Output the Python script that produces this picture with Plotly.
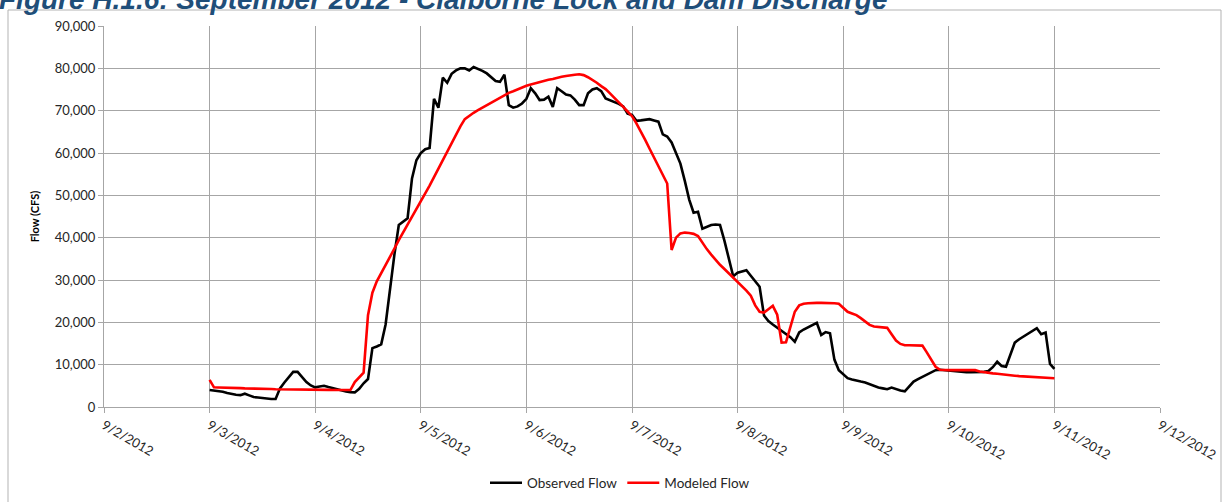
import pandas as pd
import plotly.graph_objects as go

# Hourly time stamps, 9/3/2012 00:00 through 9/11/2012 00:00
times = pd.date_range("2012-09-03 00:00", "2012-09-11 00:00", freq="h")

observed_flow = [
    4000, 3900, 3850, 3600, 3300, 3050, 2900, 2800, 3150, 2750, 2350, 2250, 2100, 1900, 1900, 1900,
    4400, 5800, 7000, 8300, 8300, 7100, 5900, 5100,
    4650, 4850, 5000, 4700, 4400, 4100, 3850, 3650, 3500, 3450, 4300, 5600, 6600, 13900, 14300, 14800,
    19500, 28000, 36000, 43000, 43800, 44600, 54000, 58300,
    60000, 60900, 61200, 72800, 70700, 77800, 76600, 78700, 79500, 80000, 80000, 79500, 80300, 79900,
    79400, 78800, 77800, 77000, 76800, 78500, 71300, 70700, 71000, 71700,
    72800, 75300, 74100, 72500, 72600, 73300, 70900, 75300, 74600, 73800, 73600, 72600, 71300, 71300,
    74100, 75000, 75300, 74600, 72900, 72500, 72000, 71600, 71000, 69300,
    69000, 67600, 67700, 67900, 68000, 67700, 67400, 64400, 63900, 62500, 60000, 57500, 53400, 49000,
    45900, 46100, 42100, 42500, 43000, 43100, 43000, 39300, 35300, 30900,
    31700, 32000, 32300, 31000, 29800, 28400, 21600, 20300, 19500, 18800, 18000, 17300, 16500, 15400,
    17600, 18300, 18800, 19300, 19900, 17000, 17700, 17400, 11200, 8700,
    7700, 6800, 6500, 6200, 6000, 5800, 5400, 4900, 4600, 4400, 4200, 4600, 4200, 3900, 3700, 4800,
    6000, 6600, 7100, 7700, 8200, 8700, 8800, 8700,
    8500, 8400, 8300, 8200, 8200, 8200, 8200, 8200, 8300, 8500, 9400, 10700, 9700, 9500, 12200, 15200,
    16000, 16700, 17300, 18000, 18600, 17200, 17600, 10200,
    9000,
]

modeled_flow = [
    6400, 4650, 4600, 4600, 4550, 4500, 4450, 4450, 4400, 4400, 4350, 4300, 4300, 4250, 4250, 4200,
    4200, 4200, 4150, 4150, 4150, 4100, 4100, 4100,
    4100, 4050, 4050, 4050, 4000, 4000, 4000, 4000, 4000, 5900, 7000, 8100, 21700, 27000, 29700, 31600,
    33300, 35300, 37400, 39400, 41200, 43100, 45000, 46900,
    48700, 50500, 52300, 54300, 56300, 58400, 60300, 62200, 64200, 66300, 68000, 68800, 69500, 70100,
    70700, 71300, 71900, 72500, 73100, 73700, 74200, 74600, 75100, 75500,
    75900, 76200, 76500, 76800, 77000, 77300, 77500, 77800, 78000, 78200, 78400, 78500, 78600, 78400,
    77900, 77300, 76600, 75800, 75100, 74100, 73100, 72000, 70900, 69800,
    68700, 67000, 65200, 63100, 61000, 59000, 57000, 54900, 52800, 37100, 40000, 41000, 41200, 41100,
    40900, 40400, 38700, 37300, 36000, 34700, 33600, 32600, 31600, 30700,
    29700, 28600, 27500, 26300, 24000, 22500, 22300, 23100, 23900, 21800, 15200, 15300, 18900, 22500,
    24000, 24400, 24500, 24600, 24600, 24600, 24600, 24500, 24500, 24400,
    23400, 22500, 22100, 21700, 21000, 20200, 19400, 19000, 18900, 18900, 18700, 17200, 15700, 14900,
    14600, 14600, 14600, 14600, 14500, 12900, 11300, 9500, 8800, 8700,
    8700, 8700, 8700, 8700, 8700, 8700, 8700, 8400, 8200, 8100, 7950, 7850, 7700, 7600, 7500, 7400,
    7300, 7250, 7200, 7100, 7050, 7000, 6900, 6850,
    6800,
]

series_names = ["Observed Flow", "Modeled Flow"]
title_text = "Figure H.1.6: September 2012 - Claiborne Lock and Dam Discharge"
y_title = "Flow (CFS)"
x_range = ["2012-09-02", "2012-09-12"]
y_range = [0, 90000]

W, H = 1225, 502
L, R, T, B = 104, 65, 26, 95
PW, PH = W - L - R, H - T - B


def px_x(p):
    return (p - L) / PW


def px_y(p):
    return (H - B - p) / PH


label_font = dict(family="Lato, Carlito, Calibri, sans-serif", size=13, color="#262626")
grid_col = "#A6A6A6"

fig = go.Figure()
fig.add_trace(go.Scatter(x=times, y=observed_flow, mode="lines", name=series_names[0],
                         line=dict(color="#000000", width=2.6)))
fig.add_trace(go.Scatter(x=times, y=modeled_flow, mode="lines", name=series_names[1],
                         line=dict(color="#FF0000", width=2.6)))

fig.update_layout(
    width=W, height=H,
    margin=dict(l=L, r=R, t=T, b=B, pad=0, autoexpand=False),
    paper_bgcolor="white", plot_bgcolor="white",
    showlegend=True,
    legend=dict(orientation="h", xanchor="center", x=px_x(620), yanchor="middle", y=px_y(483),
                font=dict(family="Lato, Carlito, Calibri, sans-serif", size=13.5, color="#262626"),
                itemwidth=32, tracegroupgap=0, bgcolor="rgba(0,0,0,0)"),
    xaxis=dict(type="date", range=x_range, dtick=86400000, tick0="2012-09-02",
               tickformat="%-m/%-d/%Y", tickangle=30, showgrid=True, gridcolor=grid_col, gridwidth=1,
               ticks="outside", ticklen=5, tickcolor=grid_col, showline=True, linecolor=grid_col,
               linewidth=1, tickfont=label_font, zeroline=False, fixedrange=True, automargin=False),
    yaxis=dict(range=y_range, dtick=10000, tickformat=",d", showgrid=True, gridcolor=grid_col,
               gridwidth=1, ticks="outside", ticklen=5, tickcolor=grid_col, showline=True,
               linecolor=grid_col, linewidth=1, tickfont=label_font, zeroline=False, automargin=False,
               fixedrange=True,
               title=dict(text="<b>" + y_title + "</b>", standoff=12,
                          font=dict(family="Lato, Carlito, Calibri, sans-serif", size=11, color="#000000"))),
    shapes=[dict(type="rect", xref="paper", yref="paper", x0=px_x(8), x1=px_x(1221), y0=px_y(560), y1=px_y(10),
                 line=dict(color="#B3B3B3", width=1), layer="below")],
    annotations=[dict(text="<b><i>" + title_text + "</i></b>", xref="paper", yref="paper",
                      x=px_x(-3), y=px_y(17), xanchor="left", yanchor="bottom", showarrow=False,
                      font=dict(family="Arial, Liberation Sans, sans-serif", size=28, color="#1F4E79"))],
)

fig.write_html("out.html", config={"displayModeBar": False, "staticPlot": True},
               post_script="document.body.style.margin='0';document.body.style.overflow='hidden';")
